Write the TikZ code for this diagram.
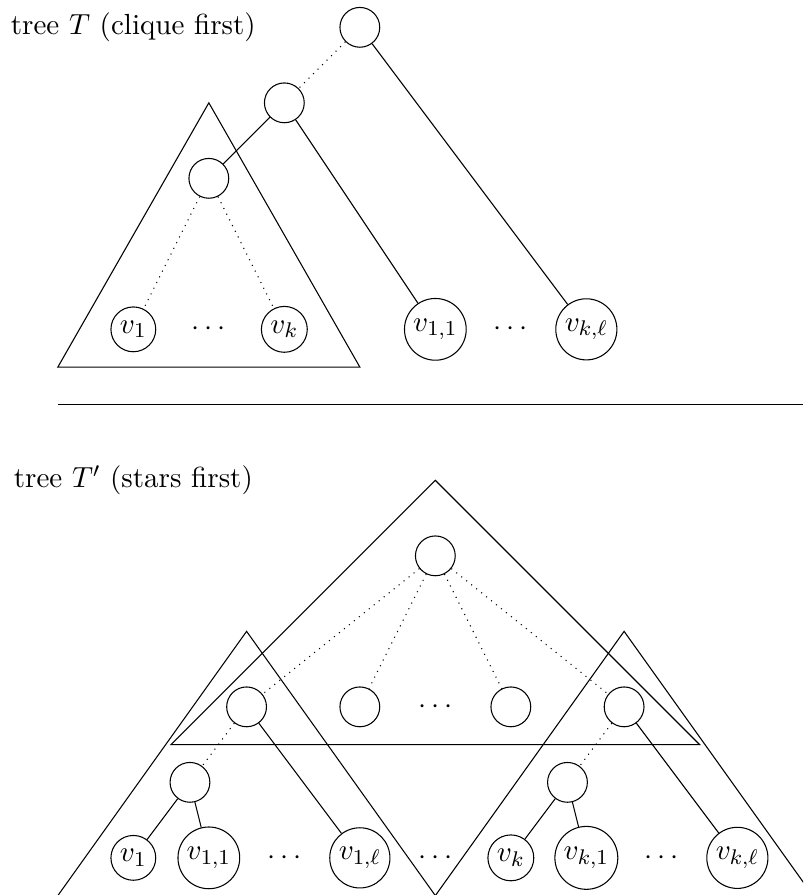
\documentclass[tikz,border=0pt,11pt]{standalone}
\usetikzlibrary{positioning}

\tikzset{vert/.style={circle,draw,minimum size=15pt,inner sep=1.8pt}}

\begin{document}
\begin{tikzpicture}[node distance=1cm,on grid]
            \clip (-0.766,0.362) rectangle (9.870,-11.492);

            % tree T
            \node (lt) at (1,0) {tree $T$ (clique first)};

            \node[vert] (r) at (4,0) {};

            \node[vert] (a) [below left=1cm and 1cm of r] {};

            \node[vert] (b) [below left=1cm and 1cm of a] {};

            \node[vert] (v1) at (1,-4) {$v_1$};

            \node (d1) [right=of v1] {$\cdots$};

            \node[vert] (vk) [right=of d1] {$v_k$};

            \node[vert] (v11) [right=2cm of vk] {$v_{1,1}$};

            \node (d2) [right=of v11] {$\cdots$};

            \node[vert] (vkl) [right=of d2] {$v_{k,\ell}$};

            \draw (2,-1) -- (0,-4.5) -- (4,-4.5) -- cycle;

            \path (r) edge[dotted] (a)
                      edge (vkl)
                  (a) edge (b)
                      edge (v11)
                  (b) edge[dotted] (v1)
                      edge[dotted] (vk);

            \draw (0,-5) -- (9.870,-5);

            % tree T'
            \node (ls) at (1,-6) {tree $T'$ (stars first)};

            \node[vert] (s) at (5,-7) {};

            \node[vert] (c1) at (2.5,-9) {};

            \node[vert] (c2) [right=1.5cm of c1] {};

            \node (d3) [right=of c2] {$\cdots$};

            \node[vert] (c3) [right=of d3] {};

            \node[vert] (ck) [right=1.5cm of c3] {};

            \node[vert] (m1) [below left=1cm and 0.75cm of c1] {};

            \node[vert] (w1) [below left=1cm and 0.75cm of m1] {$v_1$};

            \node[vert] (w11) [right=of w1] {$v_{1,1}$};

            \node (d4) [right=of w11] {$\cdots$};

            \node[vert] (w1l) [right=of d4] {$v_{1,\ell}$};

            \node (d5) [right=of w1l] {$\cdots$};

            \node[vert] (wk) [right=of d5] {$v_k$};

            \node[vert] (wk1) [right=of wk] {$v_{k,1}$};

            \node (d6) [right=of wk1] {$\cdots$};

            \node[vert] (wkl) [right=of d6] {$v_{k,\ell}$};

            \node[vert] (mk) [below left=1cm and 0.75cm of ck] {};

            \draw (5,-6) -- (1.5,-9.5) -- (8.5,-9.5) -- cycle;

            \draw (2.5,-8) -- (0,-11.5) -- (5,-11.5) -- cycle;

            \draw (7.5,-8) -- (5,-11.5) -- (10,-11.5) -- cycle;

            \path (s) edge[dotted] (c1)
                      edge[dotted] (c2)
                      edge[dotted] (c3)
                      edge[dotted] (ck)
                  (c1) edge[dotted] (m1)
                       edge (w1l)
                  (m1) edge (w1)
                       edge (w11)
                  (ck) edge[dotted] (mk)
                       edge (wkl)
                  (mk) edge (wk)
                       edge (wk1);

        \end{tikzpicture}
\end{document}
